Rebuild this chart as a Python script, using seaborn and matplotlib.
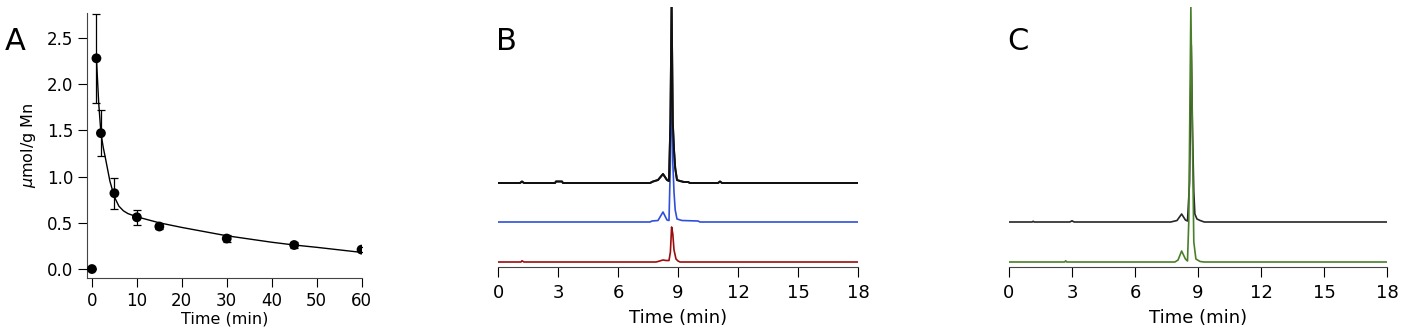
import matplotlib
matplotlib.use("Agg")
import matplotlib.pyplot as plt
import seaborn as sns
import numpy as np

# ---- Panel A: uptake vs time ----
a_time = [0, 1, 2, 5, 10, 15, 30, 45, 60]
a_value = [0.0, 2.28, 1.47, 0.82, 0.56, 0.46, 0.33, 0.26, 0.21]
a_err = [0.0, 0.48, 0.25, 0.17, 0.08, 0.03, 0.04, 0.03, 0.03]
fit_time = [1, 1.5, 2, 2.5, 3, 4, 5, 6, 7, 8, 10, 15, 20, 30, 40, 45, 50, 60]
fit_value = [2.28, 1.80, 1.47, 1.32, 1.20, 0.95, 0.78, 0.68, 0.63, 0.60, 0.565,
             0.50, 0.45, 0.36, 0.29, 0.26, 0.235, 0.18]

# ---- Panel B: chromatograms (time in min, signal in arbitrary units) ----
b_black_t = [0, 1.1, 1.2, 1.3, 2.85, 2.9, 3.2, 3.25, 7.6, 7.75, 8.0, 8.25, 8.45, 8.55,
             8.62, 8.68, 8.74, 8.8, 8.86, 8.95, 9.1, 9.3, 9.5, 9.6, 11.0, 11.1, 11.2, 18]
b_black_y = [0, 0, 1.5, 0, 0, 1.5, 1.5, 0, 0, 1.5, 3, 9, 3, 2,
             60, 180, 60, 33, 15, 3, 2, 1, 1, 0, 0, 1.5, 0, 0]
b_blue_t = [0, 7.6, 7.7, 8.0, 8.25, 8.45, 8.55, 8.62, 8.68, 8.74, 8.8, 8.86, 8.95,
            9.2, 10.0, 10.1, 18]
b_blue_y = [0, 0, 1, 1.5, 10, 2, 1.5, 60, 152, 60, 30, 12, 3, 1.5, 1, 0, 0]
b_red_t = [0, 1.15, 1.2, 1.3, 7.9, 8.0, 8.25, 8.4, 8.55, 8.62, 8.68, 8.74, 8.8, 8.9,
           9.0, 9.1, 18]
b_red_y = [0, 0, 1.2, 0, 0, 0.5, 2, 1.5, 1.5, 10, 35, 28, 12, 3, 1, 0, 0]

# ---- Panel C: chromatograms ----
c_black_t = [0, 1.1, 1.15, 1.2, 2.9, 3.0, 3.1, 7.7, 7.9, 8.0, 8.22, 8.4, 8.5, 8.6,
             8.68, 8.74, 8.8, 8.85, 8.95, 9.1, 9.3, 18]
c_black_y = [0, 0, 0.7, 0, 0, 1.2, 0, 0, 1, 1.5, 8, 2, 1, 40,
             177, 90, 30, 8, 3, 1.5, 0, 0]
c_green_t = [0, 2.65, 2.7, 2.75, 7.9, 8.05, 8.22, 8.4, 8.5, 8.56, 8.66, 8.72, 8.8,
             8.9, 9.1, 9.3, 18]
c_green_y = [0, 0, 1.2, 0, 0, 2, 11, 3, 1, 40, 255, 150, 20, 3, 0.5, 0, 0]

time_ticks = [0, 3, 6, 9, 12, 15, 18]

sns.set_style("ticks")
plt.rcParams['font.family'] = ['DejaVu Sans']
plt.rcParams['text.color'] = 'black'
plt.rcParams['axes.labelcolor'] = 'black'

W, H = 1403, 334
fig = plt.figure(figsize=(W / 100, H / 100), dpi=100)


def px_axes(x0, x1, y_top, y_bot):
    return fig.add_axes([x0 / W, 1 - y_bot / H, (x1 - x0) / W, (y_bot - y_top) / H])


# Panel A
axA = px_axes(87, 362, 13, 278)
axA.errorbar(a_time, a_value, yerr=a_err, fmt='none', ecolor='black',
             elinewidth=0.9, capsize=3.2, capthick=0.9, zorder=2)
sns.lineplot(x=fit_time, y=fit_value, ax=axA, color='black', linewidth=1.0, zorder=3)
sns.scatterplot(x=a_time, y=a_value, ax=axA, color='black', s=50, edgecolor='none',
                zorder=4)
axA.set_xlim(-1.1, 60.1)
axA.set_ylim(-0.097, 2.77)
axA.set_xticks([0, 10, 20, 30, 40, 50, 60])
axA.set_yticks([0.0, 0.5, 1.0, 1.5, 2.0, 2.5])
axA.set_yticklabels(['0.0', '0.5', '1.0', '1.5', '2.0', '2.5'])
axA.tick_params(direction='out', length=6.5, width=0.8, labelsize=12, colors='black')
axA.set_xlabel('Time (min)', fontsize=11.5, labelpad=1)
axA.set_ylabel(r'$\mu$mol/g Mn', fontsize=11.5, labelpad=6)
sns.despine(ax=axA)
for s in axA.spines.values():
    s.set_linewidth(0.8)
    s.set_color('#444444')

# Panel B
axB = px_axes(498, 858, 7, 267)
for t, y, off, col, lw in [(b_black_t, b_black_y, 84, '#262626', 1.4),
                           (b_blue_t, b_blue_y, 45, '#2f4fd8', 1.2),
                           (b_red_t, b_red_y, 5, '#9b0d0d', 1.2)]:
    sns.lineplot(x=t, y=np.array(y) + off, ax=axB, color=col, linewidth=lw)
# redraw black peak on top of the blue one
sns.lineplot(x=b_black_t, y=np.array(b_black_y) + 84, ax=axB, color='#111111',
             linewidth=1.4)

# Panel C
axC = px_axes(1009, 1387, 7, 267)
sns.lineplot(x=c_black_t, y=np.array(c_black_y) + 45, ax=axC, color='#262626', linewidth=1.2)
sns.lineplot(x=c_green_t, y=np.array(c_green_y) + 5, ax=axC, color='#4a7f2a', linewidth=1.2)

for ax in (axB, axC):
    ax.set_xlim(0, 18)
    ax.set_ylim(0, 260)
    ax.set_xticks(time_ticks)
    ax.set_yticks([])
    ax.tick_params(axis='x', direction='out', length=7, width=0.8, labelsize=13,
                   colors='black', pad=5)
    ax.set_xlabel('Time (min)', fontsize=13, labelpad=5)
    ax.set_ylabel('')
    sns.despine(ax=ax, left=True)
    ax.spines['bottom'].set_linewidth(0.8)
    ax.spines['bottom'].set_color('#444444')

# panel letters
fig.text(5 / W, 1 - 50 / H, 'A', fontsize=22, ha='left', va='baseline')
fig.text(496 / W, 1 - 50 / H, 'B', fontsize=22, ha='left', va='baseline')
fig.text(1007 / W, 1 - 50 / H, 'C', fontsize=22, ha='left', va='baseline')

fig.savefig('out.png', dpi=100)
